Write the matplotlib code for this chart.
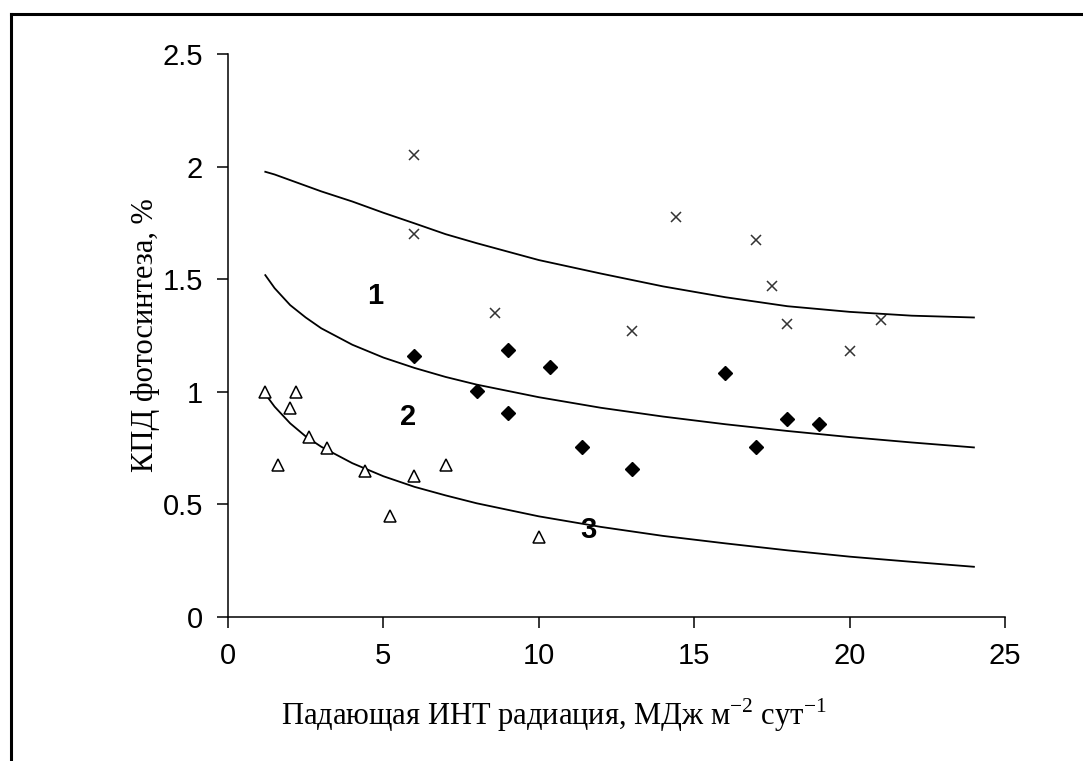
import matplotlib.pyplot as plt
from matplotlib.lines import Line2D

plt.rcParams["mathtext.fontset"] = "custom"
plt.rcParams["mathtext.rm"] = "Liberation Serif"

# серия 1 (крестики)
x1 = [6.0, 6.0, 8.6, 13.0, 14.4, 17.0, 17.5, 18.0, 20.0, 21.0]
y1 = [2.05, 1.70, 1.35, 1.27, 1.775, 1.675, 1.47, 1.30, 1.18, 1.32]

# серия 2 (ромбы)
x2 = [6.0, 9.0, 10.35, 8.0, 9.0, 11.4, 13.0, 16.0, 18.0, 19.0, 17.0]
y2 = [1.16, 1.185, 1.11, 1.005, 0.905, 0.755, 0.655, 1.085, 0.88, 0.855, 0.755]

# серия 3 (треугольники)
x3 = [1.2, 2.2, 2.0, 2.6, 3.2, 1.6, 4.4, 6.0, 7.0, 5.2, 10.0]
y3 = [1.0, 1.0, 0.93, 0.80, 0.75, 0.675, 0.65, 0.625, 0.675, 0.45, 0.355]

# линии тренда
xt = [1.2, 1.5, 2, 2.5, 3, 4, 5, 6, 7, 8, 10, 12, 14, 16, 18, 20, 22, 24]
t1 = [1.977, 1.965, 1.94, 1.915, 1.89, 1.845, 1.795, 1.748, 1.70, 1.66,
      1.585, 1.525, 1.468, 1.42, 1.38, 1.355, 1.338, 1.33]
t2 = [1.518, 1.46, 1.385, 1.33, 1.282, 1.209, 1.152, 1.106, 1.066, 1.032,
      0.976, 0.929, 0.89, 0.856, 0.826, 0.799, 0.775, 0.753]
t3 = [0.99, 0.934, 0.86, 0.802, 0.756, 0.683, 0.625, 0.578, 0.54, 0.505,
      0.447, 0.40, 0.36, 0.327, 0.296, 0.268, 0.245, 0.223]

curve_labels = ["1", "2", "3"]
label_pos = [(4.73, 1.426), (5.80, 0.889), (11.59, 0.386)]

xticks = [0, 5, 10, 15, 20, 25]
yticks = [0, 0.5, 1, 1.5, 2, 2.5]
ytick_labels = ["0", "0.5", "1", "1.5", "2", "2.5"]

fig = plt.figure(figsize=(10.83, 7.61), dpi=100)
ax = fig.add_axes([228 / 1083, 1 - 617 / 761, 777 / 1083, 563 / 761])

ax.plot(xt, t1, color="black", lw=1.3)
ax.plot(xt, t2, color="black", lw=1.3)
ax.plot(xt, t3, color="black", lw=1.3)

ax.plot(x1, y1, ls="none", marker="x", ms=7, mew=1.1, color="#333333")
ax.plot(x2, y2, ls="none", marker="D", ms=7, color="black")
ax.plot(x3, y3, ls="none", marker="^", ms=9, mew=1.1, mfc="white", mec="black")

for lab, (lx, ly) in zip(curve_labels, label_pos):
    ax.text(lx, ly, lab, fontsize=21, fontweight="bold", family="Liberation Sans",
            ha="center", va="center")

ax.set_xlim(0, 25)
ax.set_ylim(0, 2.5)
ax.set_xticks(xticks)
ax.set_xticklabels([str(t) for t in xticks])
ax.set_yticks(yticks)
ax.set_yticklabels(ytick_labels)
for s in ["top", "right"]:
    ax.spines[s].set_visible(False)
for s in ["left", "bottom"]:
    ax.spines[s].set_linewidth(1.1)
ax.tick_params(direction="out", length=8, width=1.1, labelsize=21, pad=10)
for t in ax.get_xticklabels() + ax.get_yticklabels():
    t.set_family("Liberation Sans")

ax.set_xlabel("Падающая ИНТ радиация, МДж м$^{\\mathrm{-2}}$ сут$^{\\mathrm{-1}}$",
              family="Liberation Serif", fontsize=22)
ax.xaxis.set_label_coords((554 - 228) / 777, -(715 - 617) / 563)
ax.xaxis.label.set_va("center")
ax.set_ylabel("КПД фотосинтеза, %", family="Liberation Serif", fontsize=22)
ax.yaxis.set_label_coords(-(228 - 145) / 777, 0.5)
ax.yaxis.label.set_va("center")

# внешняя рамка
fx = 11 / 1083
fy = 1 - 14 / 761
fig.add_artist(Line2D([fx, fx], [0, fy], color="black", lw=2.2, transform=fig.transFigure))
fig.add_artist(Line2D([fx, 1], [fy, fy], color="black", lw=2.2, transform=fig.transFigure))

fig.savefig("out.png", dpi=100)
